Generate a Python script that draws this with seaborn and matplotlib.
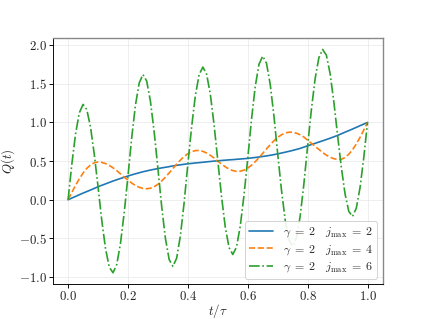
import matplotlib
matplotlib.use("Agg")
import matplotlib.pyplot as plt
import seaborn as sns
import numpy as np
import pandas as pd

# time grid (t/tau), step 0.0125
t = [i / 80 for i in range(81)]

# gamma = 2, j_max = 2
q_j2 = [0.000, 0.022, 0.043, 0.065, 0.086, 0.106, 0.126, 0.147, 0.168,
        0.187, 0.205, 0.224, 0.242, 0.259, 0.275, 0.291, 0.307,
        0.322, 0.336, 0.349, 0.362, 0.373, 0.384, 0.394, 0.403,
        0.412, 0.420, 0.428, 0.438, 0.445, 0.452, 0.459, 0.465,
        0.470, 0.476, 0.480, 0.485, 0.490, 0.495, 0.500, 0.504,
        0.508, 0.512, 0.516, 0.519, 0.523, 0.527, 0.531, 0.535,
        0.541, 0.547, 0.553, 0.560, 0.567, 0.575, 0.584, 0.593,
        0.604, 0.615, 0.626, 0.638, 0.651, 0.664, 0.681, 0.698,
        0.714, 0.730, 0.746, 0.762, 0.779, 0.796, 0.814, 0.832,
        0.853, 0.874, 0.894, 0.915, 0.936, 0.958, 0.979, 1.000]

# gamma = 2, j_max = 4
q_j4 = [0.000, 0.095, 0.187, 0.271, 0.345, 0.406, 0.451, 0.479, 0.488,
        0.483, 0.468, 0.444, 0.413, 0.376, 0.335, 0.293, 0.253,
        0.216, 0.184, 0.161, 0.147, 0.142, 0.149, 0.169, 0.200,
        0.243, 0.292, 0.347, 0.404, 0.460, 0.513, 0.559, 0.596,
        0.622, 0.636, 0.637, 0.626, 0.605, 0.575, 0.540, 0.500,
        0.461, 0.426, 0.397, 0.377, 0.367, 0.369, 0.383, 0.410,
        0.446, 0.492, 0.544, 0.600, 0.657, 0.712, 0.763, 0.806,
        0.840, 0.863, 0.874, 0.873, 0.861, 0.840, 0.811, 0.770,
        0.730, 0.690, 0.651, 0.611, 0.577, 0.550, 0.531, 0.522,
        0.523, 0.547, 0.589, 0.647, 0.721, 0.807, 0.902, 1.000]

# gamma = 2, j_max = 6
q_j6 = [0.000, 0.461, 0.854, 1.125, 1.233, 1.166, 0.937, 0.586, 0.168,
        -0.267, -0.633, -0.872, -0.944, -0.837, -0.563, -0.163, 0.307,
        0.804, 1.225, 1.511, 1.620, 1.535, 1.273, 0.876, 0.403,
        -0.086, -0.499, -0.773, -0.862, -0.756, -0.467, -0.039, 0.465,
        0.941, 1.346, 1.617, 1.716, 1.627, 1.365, 0.971, 0.504,
        0.038, -0.355, -0.618, -0.708, -0.611, -0.340, 0.061, 0.535,
        1.038, 1.465, 1.752, 1.858, 1.766, 1.493, 1.081, 0.593,
        0.129, -0.262, -0.520, -0.602, -0.495, -0.213, 0.206, 0.698,
        1.167, 1.566, 1.838, 1.944, 1.871, 1.632, 1.267, 0.832,
        0.420, 0.074, -0.151, -0.216, -0.109, 0.158, 0.546, 1.000]

labels = [r"$\gamma\;=\;2 \quad j_{\max}\;=\;2$",
          r"$\gamma\;=\;2 \quad j_{\max}\;=\;4$",
          r"$\gamma\;=\;2 \quad j_{\max}\;=\;6$"]

sns.set_style("whitegrid")
plt.rcParams["font.family"] = ["cmr10"]
plt.rcParams["mathtext.fontset"] = "cm"
plt.rcParams["axes.formatter.use_mathtext"] = True

DPI = 66.4
fig, ax = plt.subplots(figsize=(425 / DPI, 319 / DPI), dpi=DPI)

palette = sns.color_palette("tab10")
styles = ["-", "--", "-."]
for q, lab, col, ls in zip([q_j2, q_j4, q_j6], labels, palette[:3], styles):
    sns.lineplot(x=t, y=q, ax=ax, color=col, linestyle=ls, linewidth=1.8,
                 label=lab)

ax.margins(x=0.05, y=0.05)
ax.set_xlabel(r"$t/\tau$", fontsize=14, labelpad=-2)
ax.set_ylabel(r"$Q(t)$", fontsize=14, labelpad=2)
ax.set_xticks([0.0, 0.2, 0.4, 0.6, 0.8, 1.0])
ax.set_yticks([-1.0, -0.5, 0.0, 0.5, 1.0, 1.5, 2.0])
ax.tick_params(axis="both", which="both", labelsize=14, direction="out",
               length=4, width=1, color="black", left=True, bottom=True,
               pad=3)
ax.tick_params(labelcolor="#222222")
ax.grid(True, color="#e6e6e6", linewidth=0.7)

for side in ["left", "bottom"]:
    ax.spines[side].set_color("black")
    ax.spines[side].set_linewidth(1.0)
for side in ["top", "right"]:
    ax.spines[side].set_color("#888888")
    ax.spines[side].set_linewidth(1.5)

leg = ax.legend(loc="lower right", fontsize=13, frameon=True, framealpha=0.9,
                edgecolor="#cccccc", fancybox=True, handlelength=2.0,
                borderaxespad=0.45, labelspacing=0.3, borderpad=0.35)

fig.subplots_adjust(left=0.125, right=0.9, top=0.88, bottom=0.11)
fig.savefig("out.png", dpi=DPI)
